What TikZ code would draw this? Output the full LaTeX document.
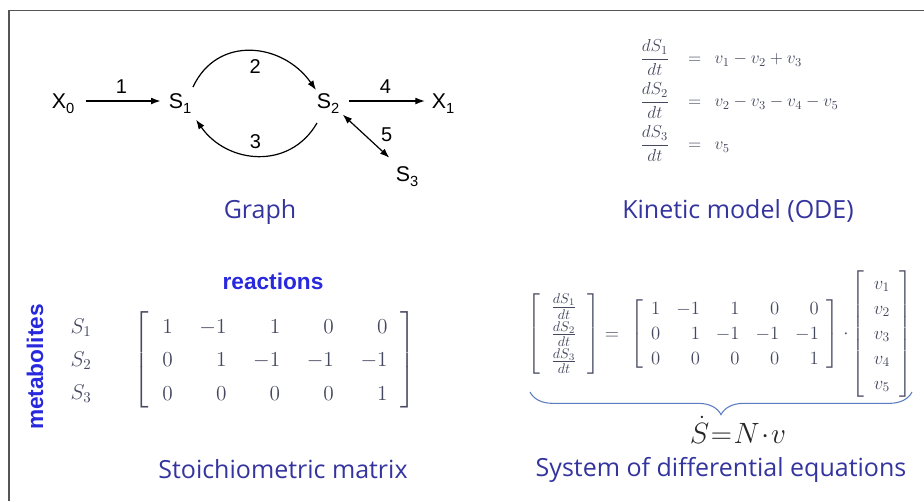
\RequirePackage{fix-cm}
\documentclass[tikz,border=0pt]{standalone}
\usepackage{amsmath}
\usepackage[no-math]{fontspec}
\newfontfamily\graphfont{Liberation Sans}
\newfontfamily\capfont{Open Sans}
\usetikzlibrary{positioning,arrows.meta,decorations.pathreplacing}
\definecolor{capBlue}{HTML}{34349E}
\definecolor{tagBlue}{HTML}{2828DE}
\definecolor{braceBlue}{HTML}{5B7CC2}
\definecolor{eqGray}{HTML}{45485F}
\definecolor{frameGray}{HTML}{555555}
\newcommand{\lowsub}[1]{\raisebox{-3.5pt}{\fontsize{11}{12}\selectfont#1}}

\begin{document}
\begin{tikzpicture}[x=0.75pt,y=-0.75pt,
    >={Latex[length=2.5mm,width=1.8mm]},
    sp/.style={font=\graphfont\fontsize{16}{19}\selectfont, inner sep=1pt, text depth=0pt},
    num/.style={font=\graphfont\fontsize{15}{17}\selectfont, inner sep=1pt},
    capline/.style={font=\capfont\fontsize{18.75}{22}\selectfont, text=capBlue, anchor=base},
    tag/.style={font=\graphfont\bfseries\fontsize{17}{20}\selectfont, text=tagBlue},
    rx/.style={->, line width=0.9pt},
    ode/.style={font=\fontsize{13}{16}\selectfont, text=eqGray, inner sep=0pt, anchor=west},
    mat/.style={text=eqGray, inner sep=0pt}]
  \useasboundingbox (0,0) rectangle (924,501);
  \draw[frameGray, line width=1.3pt] (9,501) -- (9,10.5) -- (924,10.5);

  % graph
  \node[sp] (x0) at (63,101)  {X\lowsub{0}};
  \node[sp] (s1) at (180,101) {S\lowsub{1}};
  \node[sp] (s2) at (328,101) {S\lowsub{2}};
  \node[sp] (x1) at (443,101) {X\lowsub{1}};
  \node[sp] (s3) at (407,174) {S\lowsub{3}};
  \draw[rx, shorten <=7.5pt, shorten >=5pt] (x0) -- node[num, above=4.5pt] {1} (s1);
  \draw[rx, shorten <=6.5pt, shorten >=4pt] (s2) -- node[num, above=4.5pt] {4} (x1);
  \draw[rx] ([xshift=9.75pt,yshift=10.5pt]s1.center) to[out=65,in=125,looseness=1.2]
    node[num, below=5pt, xshift=3pt] {2} ([xshift=-9pt,yshift=8.25pt]s2.center);
  \draw[rx] ([xshift=-8.25pt,yshift=-16.5pt]s2.center) to[out=-120,in=-55,looseness=1.15]
    node[num, above=4pt, xshift=-2pt] {3} ([xshift=12pt,yshift=-14pt]s1.center);
  \draw[rx, <->, shorten <=5pt, shorten >=8pt] (s2) -- node[num, pos=0.45, right=11pt] {5} (s3);
  \node[capline] (gcap) at (260,218) {Graph};

  % kinetic model
  \node[ode] (ode1) at (640,57.5)  {$\dfrac{dS_1}{dt}\hspace{13.8pt}{=}\hspace{10pt}v_1-v_2+v_3$};
  \node[ode] (ode2) at (640,100.5) {$\dfrac{dS_2}{dt}\hspace{13.8pt}{=}\hspace{10pt}v_2-v_3-v_4-v_5$};
  \node[ode] (ode3) at (640,143.5) {$\dfrac{dS_3}{dt}\hspace{13.8pt}{=}\hspace{10pt}v_5$};
  \node[capline] (kcap) at (738,218) {Kinetic model (ODE)};

  % stoichiometric matrix
  \node[tag] (rlab) at (273,281) {reactions};
  \node[tag, rotate=90] (mlab) at (35,367) {metabolites};
  \node[mat, font=\fontsize{16}{19}\selectfont, text depth=0pt] (m1) at (81,326) {$S_1$};
  \node[mat, font=\fontsize{16}{19}\selectfont, text depth=0pt] (m2) at (81,359) {$S_2$};
  \node[mat, font=\fontsize{16}{19}\selectfont, text depth=0pt] (m3) at (81,392) {$S_3$};
  \node[mat, font=\fontsize{16}{25}\selectfont] (nmat) at (275,360)
    {$\setlength{\arraycolsep}{10pt}\left[\begin{array}{rrrrr}
      1&-1&1&0&0\\ 0&1&-1&-1&-1\\ 0&0&0&0&1\end{array}\right]$};
  \node[capline] (scap) at (283,478) {Stoichiometric matrix};

  % system of differential equations
  \node[mat, font=\fontsize{15}{20.5}\selectfont] (dvec) at (564,334)
    {$\setlength{\arraycolsep}{8pt}\left[\begin{array}{c}
      \frac{dS_1}{dt}\\ \frac{dS_2}{dt}\\ \frac{dS_3}{dt}\end{array}\right]$};
  \node[mat, font=\fontsize{14}{18.75}\selectfont] (eqs) at (612,336) {$=$};
  \node[mat, font=\fontsize{14}{18.75}\selectfont] (nmat2) at (735,334)
    {$\setlength{\arraycolsep}{6pt}\left[\begin{array}{rrrrr}
      1&-1&1&0&0\\ 0&1&-1&-1&-1\\ 0&0&0&0&1\end{array}\right]$};
  \node[mat, font=\fontsize{14}{18.75}\selectfont] (cdt) at (846,334) {$\cdot$};
  \node[mat, font=\fontsize{14}{18.75}\selectfont] (vvec) at (882,334)
    {$\setlength{\arraycolsep}{7pt}\left[\begin{array}{c}
      v_1\\ v_2\\ v_3\\ v_4\\ v_5\end{array}\right]$};
  \coordinate (bl) at (530,392);
  \coordinate (br) at (912,392);
  \draw[braceBlue, line width=0.8pt, decorate, decoration={brace, mirror, amplitude=17pt}] (bl) -- (br);
  \node[mat, text=black!85, font=\fontsize{22}{26}\selectfont, anchor=base] (sdot) at (738,443)
    {$\dot S\mkern1mu{=}\mkern1mu N\mkern1mu{\cdot}\mkern1mu v$};
  \node[capline] (dcap) at (721,476) {System of differential equations};
\end{tikzpicture}
\end{document}
